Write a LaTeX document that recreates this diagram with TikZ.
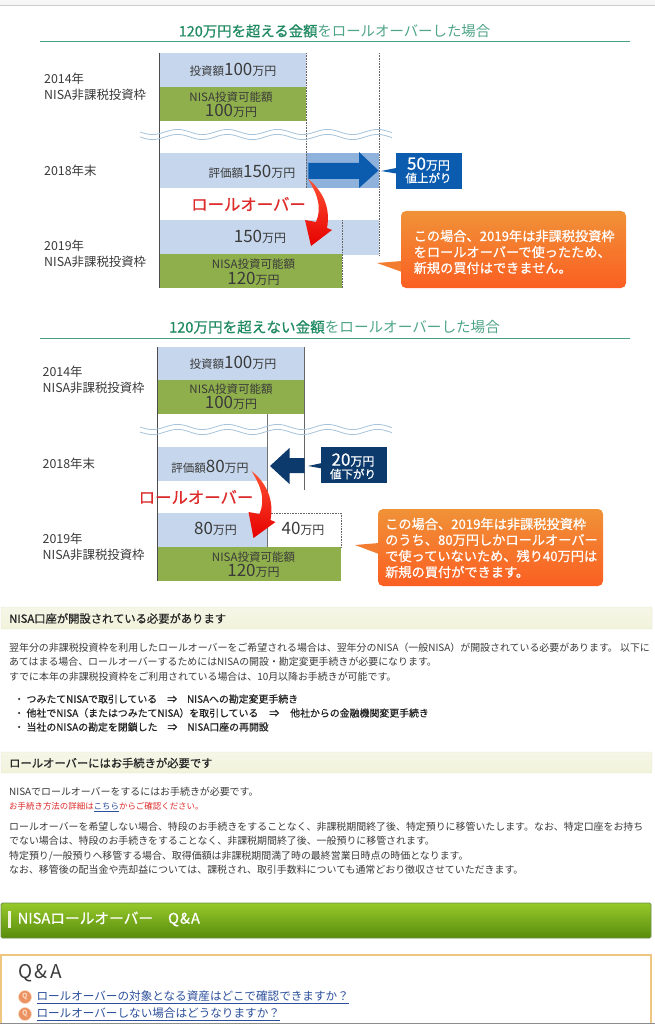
\documentclass[tikz,border=0pt]{standalone}
\usepackage{fontspec}
\setmainfont{Noto Sans CJK JP}
\newfontfamily\medfont[FakeBold=0.7]{Noto Sans CJK JP}
\newcommand{\fsz}[2]{{\fontsize{#1}{#1}\selectfont #2}}
\definecolor{barblue}{HTML}{C6D7ED}
\definecolor{bargreen}{HTML}{8FAF4C}
\definecolor{deepblue}{HTML}{8FB2DC}
\definecolor{arrowblue}{HTML}{0B5CAE}
\definecolor{navy}{HTML}{0D3A6C}
\definecolor{wavec}{HTML}{A6C3DA}
\definecolor{titleg}{HTML}{1F8A62}
\definecolor{titlel}{HTML}{4FA588}
\definecolor{rulec}{HTML}{46A081}
\definecolor{ink}{HTML}{3A3A3A}
\definecolor{rolred}{HTML}{DD2A2A}
\definecolor{linkb}{HTML}{2B4F9B}
\definecolor{oratop}{HTML}{F09238}
\definecolor{orabot}{HTML}{FB5F22}
\definecolor{orapt}{HTML}{F27C30}
\definecolor{bandtop}{HTML}{F5F6E6}
\definecolor{bandbot}{HTML}{F1F3DC}
\definecolor{bandline}{HTML}{E6E9D0}
\definecolor{bartop}{HTML}{97C92B}
\definecolor{barbot}{HTML}{578C0C}
\definecolor{barline}{HTML}{6E8E48}
\definecolor{boxline}{HTML}{EFC680}
\definecolor{qorange}{HTML}{EC9160}
\definecolor{qpale}{HTML}{F8D8C0}
\tikzset{
  lbl/.style={anchor=west,inner sep=0pt,text=ink,font=\fontsize{12.4}{12.4}\selectfont},
  ctr/.style={inner sep=0pt,text=ink},
  para/.style={anchor=west,inner sep=0pt,text=ink,font=\fontsize{9.93}{9.93}\selectfont},
  bul/.style={anchor=west,inner sep=0pt,text=black!85,font=\medfont\fontsize{9.9}{9.9}\selectfont},
  head/.style={anchor=west,inner sep=0pt,text=black!85,font=\medfont\fontsize{11.3}{11.3}\selectfont},
  band/.style={draw=bandline,top color=bandtop,bottom color=bandbot,rounded corners=1pt},
  divline/.style={black!60,line width=0.6pt,densely dotted},
  leftline/.style={black!70,line width=0.9pt},
  call/.style={anchor=west,inner sep=0pt,text=white,font=\medfont\fontsize{13.2}{13.2}\selectfont},
  orangebox/.style={rounded corners=5pt,top color=oratop,bottom color=orabot},
  wave/.style={wavec,line width=0.8pt},
  rol/.style={inner sep=0pt,text=rolred,font=\medfont\fontsize{16.4}{16.4}\selectfont},
  rolarrow/.style={top color=red!70!orange!80!white,bottom color=red!90!black},
  qlink/.style={anchor=west,inner sep=0pt,text=linkb,font=\fontsize{11.6}{11.6}\selectfont},
  qmark/.style={circle,fill=qorange,draw=qpale,line width=0.6pt,minimum size=13pt,inner sep=0pt,text=qpale,font=\bfseries\fontsize{7}{7}\selectfont}
}
\begin{document}
\begin{tikzpicture}[x=1pt,y=-1pt]
\useasboundingbox (0,0) rectangle (655,1024);
\fill[white] (0,0) rectangle (655,1024);
\fill[black!3] (0,0) rectangle (655,5);
\fill[black!20] (0,5) rectangle (655,6.5);

% ---------- first diagram
\node[inner sep=0pt] (t1) at (334.5,31) {\fsz{14.4}{\textcolor{titleg}{\medfont 120万円を超える金額}\textcolor{titlel}{をロールオーバーした場合}}};
\coordinate (r1a) at (40,42); \coordinate (r1b) at (630,42);
\draw[rulec,line width=1pt] (r1a) -- (r1b);

\fill[barblue] (159,53) rectangle (306,87);
\fill[bargreen] (159,87) rectangle (306,121);
\fill[barblue] (159,153.5) rectangle (306,188);
\fill[deepblue] (306,153.5) rectangle (379,188);
\fill[barblue] (159,220) rectangle (342,254);
\fill[barblue] (342,220) rectangle (379,255);
\fill[bargreen] (159,254) rectangle (342,288);
\draw[leftline] (159,53) -- (159,288);
\draw[divline] (306,53) -- (306,188);
\draw[divline] (379,53) -- (379,255);
\draw[divline] (342,220) -- (342,288);
\draw[wave,domain=140:392,samples=110] plot (\x,{132+2.6*sin(7.2*(\x-140))});
\draw[wave,domain=140:392,samples=110] plot (\x,{137+2.6*sin(7.2*(\x-140))});

\fill[arrowblue] (308.3,163) -- (359,163) -- (359,152) -- (378.5,170.5) -- (359,188) -- (359,179) -- (308.3,179) -- cycle;
\fill[arrowblue] (381,171) -- (396,168) -- (396,173.5) -- cycle;
\node[fill=arrowblue,minimum width=66pt,minimum height=36pt,inner sep=0pt,anchor=north west] (b1) at (395.5,153) {};
\node[inner sep=0pt,text=white,font=\medfont] (b1a) at (428.5,164) {\fsz{17}{50}\fsz{12}{万円}};
\node[inner sep=0pt,text=white,font=\medfont] (b1b) at (428.5,178) {\fsz{11.5}{値上がり}};

\node[rol] (ro1) at (248.5,204) {ロールオーバー};
\path[rolarrow] (308,179) .. controls (322,190) and (331,207) .. (327,228) -- (332,230) -- (311,246) -- (305,220) -- (316,222) .. controls (322,208) and (318,195) .. (308,179) -- cycle;

\node[lbl] (a1) at (44,79) {2014年};
\node[lbl] (a2) at (44,95) {NISA非課税投資枠};
\node[lbl] (a3) at (44,171) {2018年末};
\node[lbl] (a4) at (44,246) {2019年};
\node[lbl] (a5) at (44,262) {NISA非課税投資枠};
\node[ctr] (c1) at (233,70) {\fsz{11.5}{投資額}\fsz{17}{100}\fsz{12}{万円}};
\node[ctr] (c2) at (231,97) {\fsz{11.5}{NISA投資可能額}};
\node[ctr] (c3) at (231,111) {\fsz{17}{100}\fsz{12}{万円}};
\node[ctr] (c4) at (252,172) {\fsz{11.5}{評価額}\fsz{17}{150}\fsz{12}{万円}};
\node[ctr] (c5) at (260,237) {\fsz{17}{150}\fsz{12}{万円}};
\node[ctr] (c6) at (253.5,264) {\fsz{11.5}{NISA投資可能額}};
\node[ctr] (c7) at (253.5,279) {\fsz{17}{120}\fsz{12}{万円}};

\fill[orapt] (377,263) -- (402,261) -- (402,272) -- cycle;
\path[orangebox] (401,211) rectangle (626,288);
\node[call] (d1) at (413.5,236) {この場合、2019年は非課税投資枠};
\node[call] (d2) at (413.5,252) {をロールオーバーで使ったため、};
\node[call] (d3) at (413.5,268) {新規の買付はできません。};

% ---------- second diagram
\node[inner sep=0pt] (t2) at (334.5,327) {\fsz{14.6}{\textcolor{titleg}{\medfont 120万円を超えない金額}\textcolor{titlel}{をロールオーバーした場合}}};
\coordinate (r2a) at (40,338); \coordinate (r2b) at (630,338);
\draw[rulec,line width=1pt] (r2a) -- (r2b);

\fill[barblue] (157,347) rectangle (304.5,380);
\fill[bargreen] (157,380) rectangle (304.5,414);
\fill[barblue] (157,447) rectangle (267.5,481);
\fill[barblue] (157,513) rectangle (267.5,547);
\fill[bargreen] (157,547) rectangle (341,581);
\draw[leftline] (157,347) -- (157,581);
\draw[black!60,line width=0.6pt] (304.5,347) -- (304.5,490);
\draw[black!55,line width=0.6pt] (267.5,414) -- (267.5,547);
\draw[divline] (267.5,513) -- (341,513) -- (341,547);
\draw[wave,domain=140:392,samples=110] plot (\x,{427+2.6*sin(7.2*(\x-140))});
\draw[wave,domain=140:392,samples=110] plot (\x,{432+2.6*sin(7.2*(\x-140))});

\fill[navy] (304.5,458) -- (289.5,458) -- (289.5,448) -- (270,466) -- (289.5,484) -- (289.5,473) -- (304.5,473) -- cycle;
\fill[navy] (308,466) -- (322,463) -- (322,468.5) -- cycle;
\node[fill=navy,minimum width=66pt,minimum height=36pt,inner sep=0pt,anchor=north west] (b2) at (321,447) {};
\node[inner sep=0pt,text=white,font=\medfont] (b2a) at (353,460) {\fsz{17}{20}\fsz{12}{万円}};
\node[inner sep=0pt,text=white,font=\medfont] (b2b) at (353,474) {\fsz{11.5}{値下がり}};

\node[rol] (ro2) at (196,497) {ロールオーバー};
\path[rolarrow] (251.5,471) .. controls (265.5,482) and (274.5,499) .. (270.5,520) -- (275.5,522) -- (253.5,538) -- (248.5,512) -- (259.5,514) .. controls (265.5,500) and (261.5,487) .. (251.5,471) -- cycle;

\node[lbl] (e1) at (42.5,372) {2014年};
\node[lbl] (e2) at (42.5,388) {NISA非課税投資枠};
\node[lbl] (e3) at (42.5,464) {2018年末};
\node[lbl] (e4) at (42.5,539) {2019年};
\node[lbl] (e5) at (42.5,555) {NISA非課税投資枠};
\node[ctr] (f1) at (233,363) {\fsz{11.5}{投資額}\fsz{17}{100}\fsz{12}{万円}};
\node[ctr] (f2) at (231,389) {\fsz{11.5}{NISA投資可能額}};
\node[ctr] (f3) at (231,403) {\fsz{17}{100}\fsz{12}{万円}};
\node[ctr] (f4) at (210,467) {\fsz{11.5}{評価額}\fsz{17}{80}\fsz{12}{万円}};
\node[ctr] (f5) at (215.5,529) {\fsz{17}{80}\fsz{12}{万円}};
\node[ctr] (f6) at (303,529) {\fsz{17}{40}\fsz{12}{万円}};
\node[ctr] (f7) at (253.5,557) {\fsz{11.5}{NISA投資可能額}};
\node[ctr] (f8) at (253.5,571) {\fsz{17}{120}\fsz{12}{万円}};

\fill[orapt] (355,545) -- (379,543) -- (379,554) -- cycle;
\path[orangebox] (378,509) rectangle (603,586);
\node[call] (g1) at (385,524) {この場合、2019年は非課税投資枠};
\node[call] (g2) at (385,540) {のうち、80万円しかロールオーバー};
\node[call] (g3) at (385,556) {で使っていないため、残り40万円は};
\node[call] (g4) at (385,572) {新規の買付ができます。};

% ---------- text sections
\path[band] (1,607) rectangle (652,629);
\node[head] (h1) at (9,618.5) {NISA口座が開設されている必要があります};
\node[para] (p1) at (9,648) {翌年分の非課税投資枠を利用したロールオーバーをご希望される場合は、翌年分のNISA（一般NISA）が開設されている必要があります。 以下に};
\node[para] (p2) at (9,662) {あてはまる場合、ロールオーバーするためにはNISAの開設・勘定変更手続きが必要になります。};
\node[para] (p3) at (9,677) {すでに本年の非課税投資枠をご利用されている場合は、10月以降お手続きが可能です。};
\node[bul] (q1) at (14,699) {・\hspace{2.5pt}つみたてNISAで取引している\hspace{10pt}⇒\hspace{10pt}NISAへの勘定変更手続き};
\node[bul] (q2) at (14,713) {・\hspace{2.5pt}他社でNISA（またはつみたてNISA）を取引している\hspace{11pt}⇒\hspace{11pt}他社からの金融機関変更手続き};
\node[bul] (q3) at (14,727) {・\hspace{2.5pt}当社のNISAの勘定を閉鎖した\hspace{10pt}⇒\hspace{10pt}NISA口座の再開設};

\path[band] (1,752) rectangle (652,773);
\node[head] (h2) at (9,763) {ロールオーバーにはお手続きが必要です};
\node[para] (s1) at (9,792) {NISAでロールオーバーをするにはお手続きが必要です。};
\node[anchor=west,inner sep=0pt,text=rolred,font=\fontsize{8.45}{8.45}\selectfont] (s2) at (9,807) {お手続き方法の詳細は\textcolor{linkb}{\underline{こちら}}からご確認ください。};
\node[para] (s3) at (9,827) {ロールオーバーを希望しない場合、特段のお手続きをすることなく、非課税期間終了後、特定預りに移管いたします。なお、特定口座をお持ち};
\node[para] (s4) at (9,841) {でない場合は、特段のお手続きをすることなく、非課税期間終了後、一般預りに移管されます。};
\node[para] (s5) at (9,856) {特定預り/一般預りへ移管する場合、取得価額は非課税期間満了時の最終営業日時点の時価となります。};
\node[para] (s6) at (9,870) {なお、移管後の配当金や売却益については、課税され、取引手数料についても通常どおり徴収させていただきます。};

% ---------- Q&A bar
\path[draw=barline,line width=0.8pt,rounded corners=1.5pt,top color=bartop,bottom color=barbot] (1,903) rectangle (651,938);
\fill[bandbot] (8,911) rectangle (11,928);
\node[anchor=west,inner sep=0pt,text=white,font=\medfont\fontsize{14.7}{14.7}\selectfont] (qa) at (17.5,919) {NISAロールオーバー\hspace{15pt}Q\hspace{1pt}\&\hspace{1pt}A};

% ---------- Q&A box
\draw[boxline,line width=1.2pt] (1,1026) -- (1,955) -- (651,955) -- (651,1026);
\node[anchor=west,inner sep=0pt,text=ink,font=\fontsize{19}{19}\selectfont] (qt) at (18,973) {Q\hspace{2.5pt}\&\hspace{2.5pt}A};
\node[qmark] (m1) at (25,997) {Q};
\node[qlink] (l1) at (36.3,997) {\underline{ロールオーバーの対象となる資産はどこで確認できますか？}};
\node[qmark] (m2) at (25,1014) {Q};
\node[qlink] (l2) at (36.3,1014) {\underline{ロールオーバーしない場合はどうなりますか？}};
\fill[black!45] (0,1023) rectangle (655,1024);
\end{tikzpicture}
\end{document}
